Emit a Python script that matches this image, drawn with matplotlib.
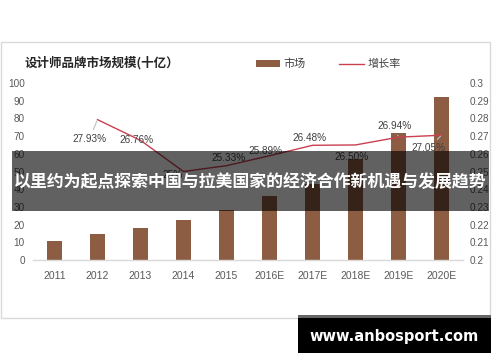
import matplotlib
matplotlib.use("Agg")
import matplotlib.pyplot as plt
from matplotlib.patches import Rectangle, Patch
from matplotlib.lines import Line2D
from matplotlib.ticker import FuncFormatter

plt.rcParams['font.family'] = ['Liberation Sans', 'Noto Sans CJK SC', 'DejaVu Sans']

# ---- data ----
years = ['2011', '2012', '2013', '2014', '2015', '2016E', '2017E', '2018E', '2019E', '2020E']
market = [11, 14.5, 18, 22.5, 28.5, 36, 43, 57, 72, 92]
growth_years = ['2012', '2013', '2014', '2015', '2016E', '2017E', '2018E', '2019E', '2020E']
growth = [0.2793, 0.2676, 0.25, 0.2533, 0.2589, 0.2648, 0.2650, 0.2694, 0.2705]
growth_labels = ['27.93%', '26.76%', '25%', '25.33%', '25.89%', '26.48%', '26.50%', '26.94%', '27.05%']
title = '设计师品牌市场规模(十亿）'
legend_labels = ['市场', '增长率']
banner = '以里约为起点探索中国与拉美国家的经济合作新机遇与发展趋势'
watermark = 'www.anbosport.com'

# label offsets in pixels (dx, dy downwards) relative to the point
label_off = [(-8, 19), (-4, 0), (-11, 3), (2, -8), (-4, -5), (-3, -7), (-4, 12.5), (-4, -11), (-13, 13)]
leader = [True, True, False, False, False, False, False, True, True]

W, H = 500, 362
fig = plt.figure(figsize=(W / 100, H / 100), dpi=100)
fig.patch.set_facecolor('white')

def fx(px):
    return px / W

def fy(py):
    return 1 - py / H

# chart frame
fig.patches.append(Rectangle((fx(1), fy(318)), fx(489) , (318 - 42) / H,
                             transform=fig.transFigure, facecolor='none',
                             edgecolor='#d9d9d9', lw=1.0, zorder=0))

ax = fig.add_axes([fx(33), fy(260), fx(463) - fx(33), (260 - 83) / H])
ax.set_facecolor('none')
x = list(range(len(years)))
bar_color = '#8c5d42'
ax.bar(x, market, width=0.33, color=bar_color, zorder=2)
ax.set_xlim(-0.5, len(years) - 0.5)
ax.set_ylim(0, 100)
ax.set_yticks(range(0, 101, 10))
ax.set_xticks(x)
ax.set_xticklabels(years)
for s in ['top', 'left', 'right']:
    ax.spines[s].set_visible(False)
ax.spines['bottom'].set_color('#d9d9d9')
ax.spines['bottom'].set_linewidth(1.0)
ax.tick_params(axis='both', length=0, colors='#595959', labelsize=7.2)
ax.tick_params(axis='y', pad=5.8)
ax.tick_params(axis='x', pad=8, labelsize=7.5)

ax2 = ax.twinx()
gx = [years.index(g) for g in growth_years]
line_color = '#c9404f'
ax2.plot(gx, growth, color=line_color, lw=1.0, zorder=3)
ax2.set_ylim(0.2, 0.3)
ax2.set_yticks([0.2 + i * 0.01 for i in range(11)])
ax2.yaxis.set_major_formatter(FuncFormatter(lambda v, p: '%g' % round(v, 2)))
for s in ['top', 'left', 'right', 'bottom']:
    ax2.spines[s].set_visible(False)
ax2.tick_params(axis='y', length=0, colors='#595959', labelsize=7.2, pad=5)

for xi, yi, lab, (dx, dy), ld in zip(gx, growth, growth_labels, label_off, leader):
    kw = {}
    if ld:
        kw['arrowprops'] = dict(arrowstyle='-', color='#bfbfbf', lw=0.8, shrinkA=1, shrinkB=1)
    ax2.annotate(lab, (xi, yi), xytext=(dx * 0.72, -dy * 0.72), textcoords='offset points',
                 ha='center', va='center', fontsize=7.2, color='#404040', zorder=4, **kw)

# title
fig.text(fx(25), fy(63), title, ha='left', va='center', fontsize=9,
         fontweight='bold', color='#262626', family=['Noto Sans CJK SC', 'DejaVu Sans'])

# legend
handles = [Patch(facecolor=bar_color, edgecolor='none'),
           Line2D([0], [0], color=line_color, lw=1.0)]
leg = fig.legend(handles, legend_labels, loc='center left', bbox_to_anchor=(fx(256), fy(64)),
                 ncol=2, frameon=False, fontsize=8, handlelength=2.2, handleheight=0.6,
                 handletextpad=0.3, columnspacing=3.0, borderpad=0, borderaxespad=0,
                 prop={'family': ['Noto Sans CJK SC', 'DejaVu Sans'], 'size': 8})
for t in leg.get_texts():
    t.set_color('#404040')

# banner overlay
fig.patches.append(Rectangle((fx(12), fy(211)), fx(489) - fx(12), (211 - 151) / H,
                             transform=fig.transFigure, facecolor='black', alpha=0.62,
                             edgecolor='none', zorder=10))
fig.text(fx(250.5), fy(182), banner, ha='center', va='center', fontsize=12.2,
         fontweight='bold', color='white', zorder=11,
         family=['Noto Sans CJK SC', 'DejaVu Sans'])

# watermark box
fig.patches.append(Rectangle((fx(298), fy(353)), fx(491) - fx(298), (353 - 315) / H,
                             transform=fig.transFigure, facecolor='black',
                             edgecolor='none', zorder=10))
fig.patches.append(Rectangle((fx(298), fy(318)), fx(491) - fx(298), 3 / H,
                             transform=fig.transFigure, facecolor='#666666',
                             edgecolor='none', zorder=11))
fig.text(fx(394), fy(337), watermark, ha='center', va='center', fontsize=10.5,
         fontweight='bold', color='white', zorder=12, family='DejaVu Sans')

fig.savefig('out.png', dpi=100)
